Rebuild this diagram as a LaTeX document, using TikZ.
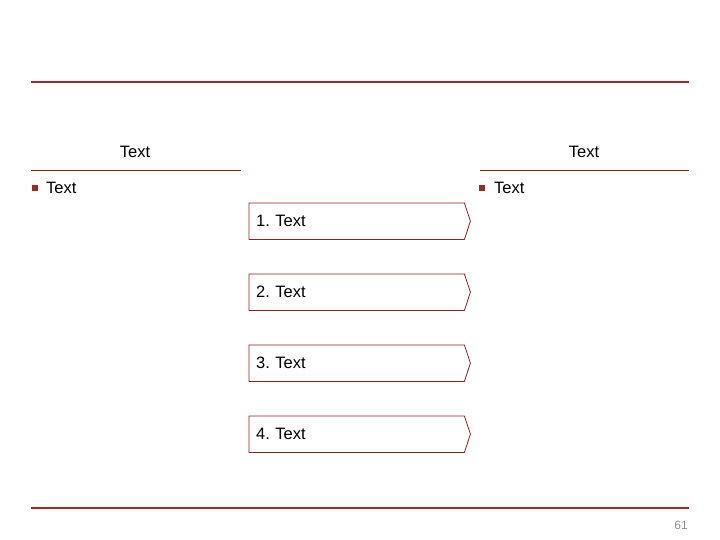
\documentclass[tikz,border=0pt]{standalone}
\usepackage{fontspec}
\setmainfont{Liberation Sans}
\frenchspacing
\definecolor{slidered}{RGB}{160,40,40}
\definecolor{pagegray}{RGB}{140,140,140}
\tikzset{
  rule/.style={draw=slidered,line width=2pt},
  headrule/.style={draw=slidered!80!black,line width=0.9pt},
  txt/.style={inner sep=0pt,font=\fontsize{16.5}{19}\selectfont},
  bulletsq/.style={fill=slidered,inner sep=0pt,minimum size=5.5pt},
  stepbox/.style={txt,anchor=north west,minimum width=215pt,minimum height=36pt,text width=201pt,inner xsep=7pt,align=left},
  boxline/.style={draw=slidered!85!black,line width=0.8pt}
}
\begin{document}
\begin{tikzpicture}[x=1pt,y=-1pt]
    \useasboundingbox (0,0) rectangle (720,540);
    \draw[rule] (31,82)--(689,82);
    \draw[rule] (31,508)--(689,508);
    \node[inner sep=0pt,text=pagegray,font=\fontsize{12}{14}\selectfont] (pnum) at (681,525) {61};

    % left column
    \node[txt] (lhead) at (135,152) {Text};
    \draw[headrule] (31,170)--(241,170);
    \node[bulletsq] (lbul) at (35,188) {};
    \node[txt,anchor=west] (ltext) at (46,188) {Text};

    % right column
    \node[txt] (rhead) at (584,152) {Text};
    \draw[headrule] (480,170)--(689,170);
    \node[bulletsq] (rbul) at (482,188) {};
    \node[txt,anchor=west] (rtext) at (494,188) {Text};

    % steps
    \foreach \i/\y in {1/203,2/274,3/345,4/416} {
      \node[stepbox] (b\i) at (249,\y) {\i. Text};
      \draw[boxline] (b\i.north west) -- (b\i.north east) -- ([xshift=6pt]b\i.east) -- (b\i.south east) -- (b\i.south west) -- cycle;
    }
\end{tikzpicture}
\end{document}
